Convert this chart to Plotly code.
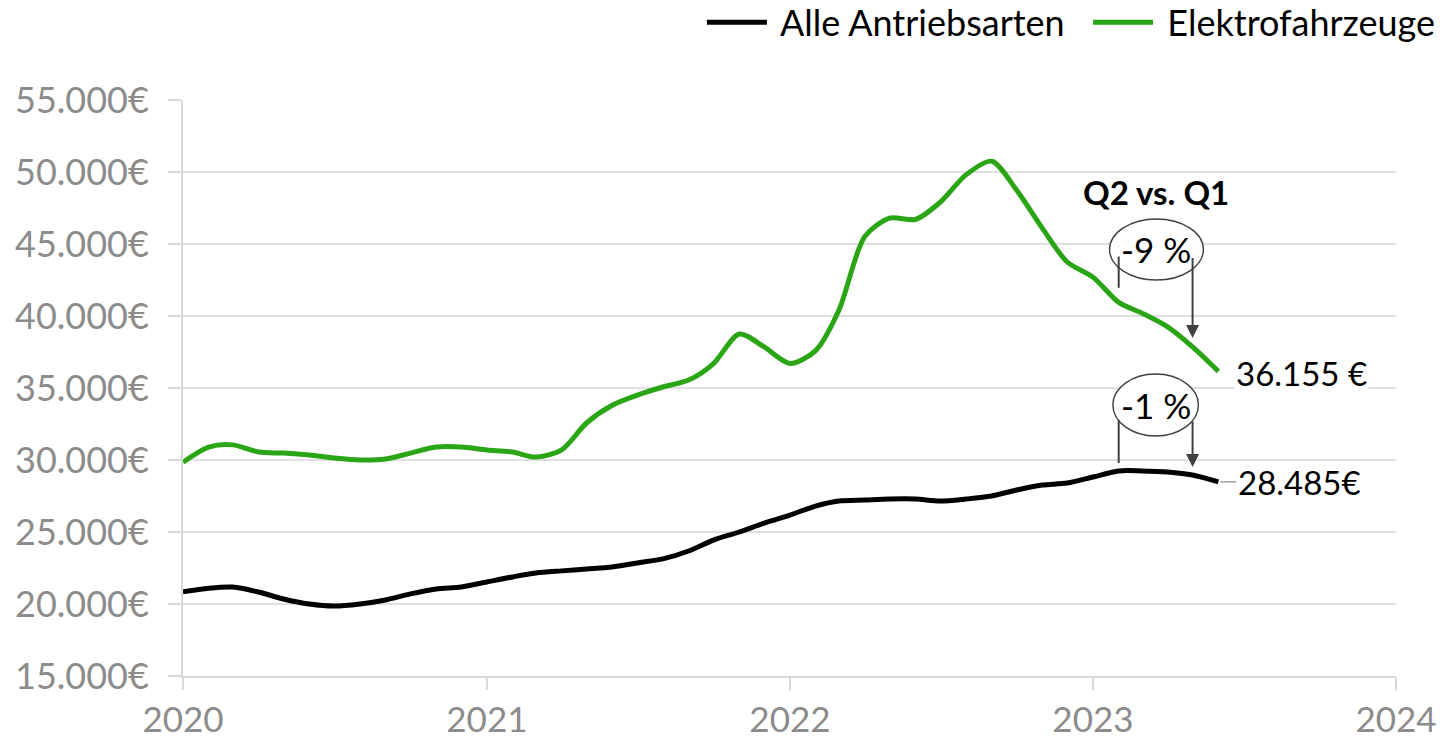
import plotly.graph_objects as go

# Monatswerte Jan 2020 - Jun 2023
monate = [f"{2020 + i // 12}-{i % 12 + 1:02d}-01" for i in range(42)]

alle_antriebsarten = [
    20850, 21100, 21180, 20830, 20350, 20000, 19860, 20000, 20280, 20700, 21040, 21180,
    21530, 21880, 22150, 22300, 22430, 22570, 22850, 23130, 23680, 24440, 25000, 25620,
    26180, 26800, 27150, 27220, 27290, 27290, 27150, 27290, 27500, 27920, 28260, 28400,
    28820, 29240, 29240, 29170, 28960, 28485,
]
elektrofahrzeuge = [
    29850, 30900, 31050, 30550, 30480, 30350, 30140, 30000, 30070, 30480, 30900, 30900,
    30700, 30550, 30200, 30700, 32570, 33800, 34500, 35070, 35550, 36700, 38750, 37850,
    36700, 37600, 40400, 45500, 46800, 46700, 47900, 49800, 50750, 48750, 46100, 43750,
    42700, 40950, 40200, 39240, 37850, 36155,
]

y_ticks = [15000, 20000, 25000, 30000, 35000, 40000, 45000, 50000, 55000]
y_ticktext = [f"{v:,}".replace(",", ".") + "€" for v in y_ticks]
x_ticks = ["2020-01-01", "2021-01-01", "2022-01-01", "2023-01-01", "2024-01-01"]
x_ticktext = ["2020", "2021", "2022", "2023", "2024"]

FONT = "Lato"
GRAU = "#8c8c8c"
PFEIL = "#404040"
GRUEN = "#2aa515"
NB = "\u00a0"

fig = go.Figure()
fig.add_trace(go.Scatter(x=monate, y=alle_antriebsarten, mode="lines",
                         name=NB + "Alle Antriebsarten" + NB * 2,
                         line=dict(color="black", width=5, shape="spline", smoothing=0.8)))
fig.add_trace(go.Scatter(x=monate, y=elektrofahrzeuge, mode="lines",
                         name=NB + "Elektrofahrzeuge",
                         line=dict(color=GRUEN, width=5, shape="spline", smoothing=0.8)))

# Q2 vs. Q1 Markierungen
fig.add_annotation(x="2023-03-18", y=48610, text="<b>Q2 vs. Q1</b>", showarrow=False,
                   font=dict(size=33, color="black", family=FONT))

ellipsen = [
    ("2023-01-21", "2023-05-14", 42500, 46740, "2023-03-18", 44650, "-9 %"),
    ("2023-01-25", "2023-05-08", 31670, 35970, "2023-03-18", 33820, "-1 %"),
]
for x0, x1, y0, y1, xt, yt, txt in ellipsen:
    fig.add_shape(type="circle", x0=x0, x1=x1, y0=y0, y1=y1,
                  line=dict(color=PFEIL, width=1.4), fillcolor="white", layer="above")
    fig.add_annotation(x=xt, y=yt, text=txt, showarrow=False,
                       font=dict(size=35, color="black", family=FONT))

klammern = [
    (44130, 41960, 44130, 38470),
    (32780, 29790, 32780, 29510),
]
for l_top, l_bot, r_top, r_tip in klammern:
    fig.add_shape(type="line", x0="2023-02-01", x1="2023-02-01", y0=l_top, y1=l_bot,
                  line=dict(color=PFEIL, width=2))
    fig.add_annotation(x="2023-05-01", y=r_tip, ax="2023-05-01", ay=r_top,
                       axref="x", ayref="y", text="", showarrow=True,
                       arrowhead=2, arrowsize=1.3, arrowwidth=2, arrowcolor=PFEIL)

# Endwerte
fig.add_annotation(x="2023-06-01", y=36155, text="36.155 €", showarrow=False,
                   xanchor="left", xshift=16, yshift=-2, bgcolor="white",
                   font=dict(size=33, color="black", family=FONT))
fig.add_annotation(x="2023-06-01", y=alle_antriebsarten[-1], text="28.485€",
                   showarrow=True, arrowhead=0, arrowwidth=1.2, arrowcolor=GRAU,
                   ax=18, ay=0, xanchor="left", standoff=2,
                   font=dict(size=33, color="black", family=FONT))

fig.update_layout(
    width=1442, height=739,
    margin=dict(l=183, r=46, t=100, b=63, autoexpand=False),
    plot_bgcolor="white", paper_bgcolor="white",
    font=dict(family=FONT, size=33, color="black"),
    showlegend=True,
    legend=dict(orientation="h", x=1.037, xanchor="right", y=1.135, yanchor="middle",
                font=dict(size=36, color="black"), itemwidth=60,
                bgcolor="rgba(0,0,0,0)"),
    xaxis=dict(
        type="date", range=["2020-01-01", "2024-01-01"],
        tickvals=x_ticks, ticktext=x_ticktext,
        showgrid=False, showline=True, linecolor="#d9d9d9", linewidth=2,
        ticks="outside", ticklen=12, tickcolor="#d9d9d9", tickwidth=2,
        tickfont=dict(size=35, color=GRAU), zeroline=False,
    ),
    yaxis=dict(
        range=[15000, 55000],
        tickvals=y_ticks, ticktext=y_ticktext,
        showgrid=True, gridcolor="#e0e0e0", gridwidth=1.5,
        showline=True, linecolor="#d9d9d9", linewidth=2,
        ticks="outside", ticklen=13, tickcolor="#d9d9d9", tickwidth=2,
        ticklabelstandoff=12,
        tickfont=dict(size=36, color=GRAU), zeroline=False,
    ),
)

fig.write_html("out.html", config={"displayModeBar": False},
               post_script="document.body.style.margin='0';document.body.style.overflow='hidden';")
